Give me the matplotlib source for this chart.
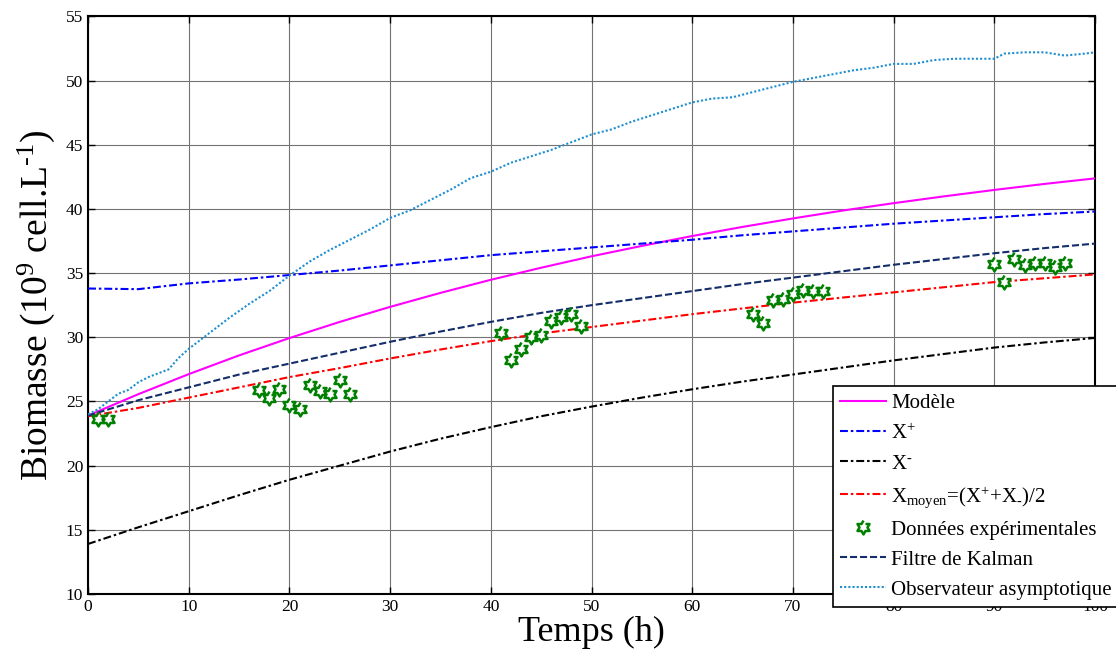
import numpy as np
import matplotlib
matplotlib.use("Agg")
import matplotlib.pyplot as plt

plt.rcParams["font.family"] = ["Liberation Serif", "DejaVu Serif"]
plt.rcParams["mathtext.fontset"] = "custom"
plt.rcParams["mathtext.rm"] = "Liberation Serif"
plt.rcParams["mathtext.it"] = "Liberation Serif"
plt.rcParams["mathtext.default"] = "regular"

# Model curves, read every 5 h
t_curve = [0, 5, 10, 15, 20, 25, 30, 35, 40, 45, 50,
           55, 60, 65, 70, 75, 80, 85, 90, 95, 100]
modele = [23.9, 25.57, 27.13, 28.59, 29.94, 31.20, 32.37, 33.46, 34.48, 35.42, 36.31,
          37.12, 37.89, 38.60, 39.26, 39.88, 40.45, 40.98, 41.48, 41.95, 42.38]
x_plus = [33.8, 33.75, 34.2, 34.5, 34.85, 35.2, 35.6, 36.0, 36.4, 36.7, 37.0,
          37.3, 37.6, 37.95, 38.25, 38.55, 38.85, 39.1, 39.35, 39.6, 39.8]
x_minus = [13.9, 15.2, 16.45, 17.7, 18.9, 20.0, 21.1, 22.1, 23.0, 23.85, 24.6,
           25.3, 25.95, 26.55, 27.1, 27.65, 28.2, 28.7, 29.2, 29.6, 29.95]
x_moyen = [23.85, 24.5, 25.3, 26.1, 26.9, 27.6, 28.35, 29.05, 29.7, 30.3, 30.8,
           31.3, 31.8, 32.25, 32.7, 33.1, 33.5, 33.9, 34.3, 34.6, 34.9]
kalman = [23.9, 25.1, 26.1, 27.1, 27.95, 28.8, 29.65, 30.45, 31.2, 31.9, 32.5,
          33.05, 33.6, 34.15, 34.65, 35.15, 35.65, 36.1, 36.55, 36.95, 37.3]

# Asymptotic observer (noisy trace)
t_obs = [0, 1, 2, 3, 4, 5, 6, 7, 8, 9, 10, 12, 14, 16, 18, 20, 22, 24, 26, 28,
         30, 32, 34, 36, 38, 40, 42, 44, 46, 48, 50, 52, 54, 56, 58, 60, 62, 64,
         66, 68, 70, 72, 74, 76, 78, 80, 82, 84, 86, 88, 90, 91, 93, 95, 97, 99, 100]
obs = [24.0, 24.4, 25.0, 25.6, 25.9, 26.5, 26.9, 27.2, 27.5, 28.4, 29.1, 30.3,
       31.5, 32.6, 33.6, 34.8, 35.9, 36.8, 37.6, 38.4, 39.3, 39.9, 40.7, 41.5,
       42.4, 42.9, 43.6, 44.1, 44.6, 45.2, 45.8, 46.2, 46.8, 47.3, 47.8, 48.3,
       48.6, 48.7, 49.1, 49.5, 49.9, 50.2, 50.5, 50.8, 51.0, 51.3, 51.3, 51.6,
       51.7, 51.7, 51.7, 52.1, 52.2, 52.2, 51.95, 52.1, 52.2]

# Experimental data
t_exp = [1, 2, 17, 18, 19, 20, 21, 22, 23, 24, 25, 26,
         41, 42, 43, 44, 45, 46, 47, 48, 49,
         66, 67, 68, 69, 70, 71, 72, 73,
         90, 91, 92, 93, 94, 95, 96, 97]
x_exp = [23.6, 23.6, 25.9, 25.3, 26.0, 24.7, 24.4, 26.3, 25.8, 25.6, 26.7, 25.6,
         30.3, 28.2, 29.1, 30.0, 30.2, 31.3, 31.6, 31.8, 30.9,
         31.8, 31.1, 32.9, 33.0, 33.4, 33.7, 33.6, 33.6,
         35.7, 34.3, 36.1, 35.6, 35.8, 35.8, 35.5, 35.8]

# hexagram marker outline
ang = np.pi / 2 + np.arange(12) * np.pi / 6
rad = np.where(np.arange(12) % 2 == 0, 1.0, 1 / np.sqrt(3))
hexagram = list(zip(rad * np.cos(ang), rad * np.sin(ang)))

fig = plt.figure(figsize=(11.16, 6.56), dpi=100)
ax = fig.add_axes([0.0789, 0.0945, 0.9023, 0.8805])

DASHDOT = (0, (3.8, 1.4, 1.2, 1.4))
lw = 1.5
ax.plot(t_curve, modele, color="#ff00ff", lw=lw, label="Modèle", zorder=4)
ax.plot(t_curve, x_plus, color="#0000ff", lw=lw, ls=DASHDOT, label="X$^{+}$", zorder=4)
ax.plot(t_curve, x_minus, color="black", lw=lw, ls=DASHDOT, label="X$^{\u2010}$", zorder=4)
ax.plot(t_curve, x_moyen, color="#ff0000", lw=lw, ls=DASHDOT,
        label="X$_{moyen}$=(X$^{+}$+X$_{\u2010}$)/2", zorder=4)
ax.plot(t_exp, x_exp, ls="none", marker=hexagram, ms=10, mfc="white",
        mec="#008000", mew=1.8, label="Données expérimentales", zorder=5)
ax.plot(t_curve, kalman, color="#142d6b", lw=lw, ls=(0, (3.4, 1.4)),
        label="Filtre de Kalman", zorder=4)
ax.plot(t_obs, obs, color="#1f8fd0", lw=lw, ls=(0, (1, 1)),
        label="Observateur asymptotique", zorder=4)

ax.set_xlim(0, 100)
ax.set_ylim(10, 55)
ax.set_xticks(range(0, 101, 10))
ax.set_yticks(range(10, 56, 5))
ax.grid(True, color="0.45", lw=0.8)
ax.set_axisbelow(True)
ax.tick_params(direction="in", top=True, right=True, labelsize=12.5, length=5, width=1)
for sp in ax.spines.values():
    sp.set_linewidth(1.5)

ax.set_xlabel("Temps (h)", fontsize=26, labelpad=1)
ax.set_ylabel("Biomasse (10$^{9}$ cell.L$^{\u20101}$)", fontsize=27, labelpad=6)

leg = ax.legend(loc="lower left", bbox_to_anchor=(833 / 1116, 1 - 607 / 656),
                bbox_transform=fig.transFigure, fontsize=15, fancybox=False,
                framealpha=1, edgecolor="black", handlelength=2.2,
                handletextpad=0.25, labelspacing=0.5, borderpad=0.35,
                borderaxespad=0)
leg.get_frame().set_linewidth(1.2)

fig.savefig("out.png", dpi=100)
